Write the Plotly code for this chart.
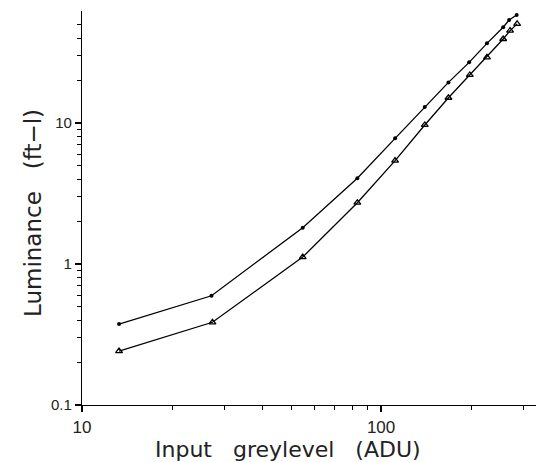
import plotly.graph_objects as go

# Data (log-log)
greylevel = [13.3, 27.1, 54.7, 83.3, 111.4, 140, 168, 197, 226, 256, 268, 284]
lum_dots = [0.375, 0.595, 1.81, 4.06, 7.78, 13.0, 19.4, 26.9, 36.7, 47.7, 53.7, 58.3]
greylevel_tri = [13.3, 27.3, 54.7, 83.3, 111.4, 140, 168, 198, 226, 256, 270, 285]
lum_tri = [0.241, 0.386, 1.12, 2.72, 5.41, 9.68, 15.1, 21.9, 29.2, 39.4, 45.2, 50.4]

x_ticks = [10, 100]
x_ticklabels = ["10", "100"]
x_minor = [20, 30, 40, 50, 60, 70, 80, 90, 200, 300]
y_ticks = [0.1, 1, 10]
y_ticklabels = ["0.1", "1", "10"]
y_minor = [0.2, 0.3, 0.4, 0.5, 0.6, 0.7, 0.8, 0.9,
           2, 3, 4, 5, 6, 7, 8, 9, 20, 30, 40, 50]

FONT = "Liberation Sans"
TITLE_FONT = "DejaVu Sans"
INK = "#222222"

fig = go.Figure()
fig.add_trace(go.Scatter(
    x=greylevel, y=lum_dots, mode="lines+markers",
    line=dict(color="black", width=1.3),
    marker=dict(symbol="circle", size=4, color="black"),
    showlegend=False, cliponaxis=False,
))
fig.add_trace(go.Scatter(
    x=greylevel_tri, y=lum_tri, mode="lines+markers",
    line=dict(color="black", width=1.3),
    marker=dict(symbol="triangle-up-open", size=6, color="black", line=dict(width=1.3)),
    showlegend=False, cliponaxis=False,
))

fig.update_layout(
    width=536, height=462,
    margin=dict(l=82, r=0, t=11, b=57, autoexpand=False),
    paper_bgcolor="white", plot_bgcolor="white",
    font=dict(family=FONT, color=INK),
    xaxis=dict(
        type="log", range=[1, 2.518], automargin=False,
        showgrid=False, zeroline=False,
        showline=True, linecolor="black", linewidth=1.3,
        ticks="outside", ticklen=6, tickwidth=1.5, tickcolor="#000000",
        tickmode="array", tickvals=x_ticks, ticktext=x_ticklabels,
        tickfont=dict(size=17, family=FONT, color=INK),
        minor=dict(ticks="outside", ticklen=4, tickwidth=1.2, tickcolor="#000000",
                   tickmode="array", tickvals=x_minor, showgrid=False),
    ),
    yaxis=dict(
        type="log", range=[-1, 1.794], automargin=False,
        showgrid=False, zeroline=False,
        showline=True, linecolor="black", linewidth=1.3,
        ticks="outside", ticklen=6, tickwidth=1.5, tickcolor="#000000",
        tickmode="array", tickvals=y_ticks, ticktext=y_ticklabels,
        tickfont=dict(size=15, family=FONT, color=INK),
        minor=dict(ticks="outside", ticklen=4, tickwidth=1.2, tickcolor="#000000",
                   tickmode="array", tickvals=y_minor, showgrid=False),
    ),
    annotations=[
        dict(text="Input   greylevel   (ADU)", xref="paper", yref="paper",
             x=(288 - 82) / 454, y=-(449 - 405) / 394, xanchor="center", yanchor="middle",
             showarrow=False, font=dict(size=22, family=TITLE_FONT, color=INK)),
        dict(text="Luminance   (ft\u2212l)", xref="paper", yref="paper",
             x=-(82 - 33) / 454, y=(405 - 213) / 394, xanchor="center", yanchor="middle",
             textangle=-90, showarrow=False, font=dict(size=23, family=TITLE_FONT, color=INK)),
    ],
)

fig.write_html(
    "out.html",
    config={"displayModeBar": False},
    post_script="document.body.style.margin='0';document.body.style.padding='0';",
)
